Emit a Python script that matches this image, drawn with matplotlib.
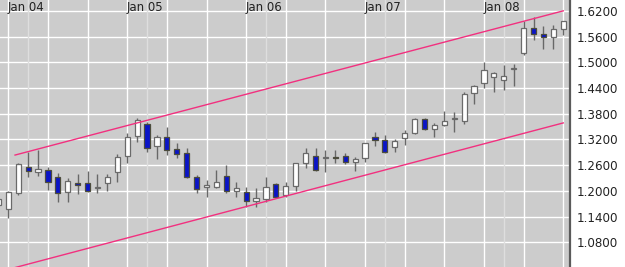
import numpy as np
import pandas as pd
import matplotlib
matplotlib.use('Agg')
import matplotlib.pyplot as plt
import matplotlib.transforms as mtransforms

# monthly candles, Dec 03 .. Aug 08
months = pd.period_range('2003-12', periods=58, freq='M')

opens = [1.167, 1.157, 1.196, 1.255, 1.245, 1.2485, 1.2315, 1.198, 1.219, 1.219,
         1.206, 1.2175, 1.243, 1.281, 1.3285, 1.356, 1.305, 1.325, 1.297, 1.2875,
         1.2315, 1.208, 1.2095, 1.2345, 1.200, 1.1965, 1.177, 1.181, 1.216, 1.190,
         1.211, 1.264, 1.281, 1.277, 1.2775, 1.282, 1.268, 1.276, 1.325, 1.3185,
         1.303, 1.324, 1.336, 1.367, 1.344, 1.3535, 1.368, 1.363, 1.4275, 1.451,
         1.465, 1.4585, 1.485, 1.522, 1.579, 1.565, 1.558, 1.5765]
highs = [1.190, 1.200, 1.264, 1.291, 1.295, 1.256, 1.241, 1.231, 1.2385, 1.247,
         1.239, 1.239, 1.286, 1.334, 1.369, 1.361, 1.330, 1.3495, 1.312, 1.299,
         1.237, 1.225, 1.2485, 1.260, 1.221, 1.208, 1.206, 1.233, 1.2175, 1.221,
         1.2656, 1.299, 1.299, 1.295, 1.295, 1.2875, 1.278, 1.312, 1.338, 1.330,
         1.320, 1.343, 1.369, 1.369, 1.3575, 1.387, 1.3845, 1.431, 1.4467, 1.500,
         1.478, 1.493, 1.497, 1.597, 1.6045, 1.584, 1.587, 1.597]
lows = [1.155, 1.137, 1.190, 1.233, 1.235, 1.202, 1.175, 1.175, 1.193, 1.198,
        1.196, 1.200, 1.221, 1.266, 1.315, 1.291, 1.2735, 1.2835, 1.276, 1.229,
        1.196, 1.185, 1.206, 1.1956, 1.186, 1.163, 1.163, 1.175, 1.1825, 1.185,
        1.200, 1.254, 1.246, 1.2445, 1.2655, 1.2625, 1.247, 1.268, 1.3045, 1.2875,
        1.291, 1.307, 1.3325, 1.342, 1.325, 1.351, 1.338, 1.356, 1.402, 1.440,
        1.431, 1.435, 1.444, 1.517, 1.552, 1.530, 1.530, 1.563]
closes = [1.181, 1.198, 1.262, 1.247, 1.251, 1.221, 1.194, 1.223, 1.213, 1.200,
          1.208, 1.2315, 1.278, 1.326, 1.365, 1.299, 1.326, 1.295, 1.286, 1.233,
          1.205, 1.2135, 1.220, 1.200, 1.206, 1.176, 1.1825, 1.208, 1.186, 1.211,
          1.264, 1.2875, 1.2485, 1.279, 1.2765, 1.268, 1.2735, 1.311, 1.3185, 1.291,
          1.317, 1.3355, 1.367, 1.344, 1.3535, 1.3635, 1.370, 1.427, 1.4445, 1.483,
          1.474, 1.4685, 1.4865, 1.581, 1.566, 1.558, 1.5765, 1.596]

# channel lines (month index, price)
trend_x = [0.68, 56]
upper_line = [1.2835, 1.62]
lower_line = [1.021, 1.3585]

yticks = [1.08, 1.14, 1.20, 1.26, 1.32, 1.38, 1.44, 1.50, 1.56, 1.62]

idx = np.arange(len(months)) - 1  # Jan 04 -> 0
o = np.array(opens); h = np.array(highs); l = np.array(lows); c = np.array(closes)
up = c >= o

fig = plt.figure(figsize=(6.25, 2.67), dpi=100)
ax = fig.add_axes([0, 0, 570 / 625, 1])
ax.set_facecolor('#cccccc')

# grid
for v in yticks:
    ax.axhline(v, color='white', lw=1.0, zorder=0)
for k in range(-1, 58):
    if k % 4 == 0:
        ax.axvline(k, color='white', lw=1.0, zorder=0)
    elif k % 12 == 2:
        ax.axvline(k, color='#dedede', lw=1.0, zorder=0)

# wicks
ax.vlines(idx, l, h, color='#686868', lw=1.0, zorder=2)
# bodies
bottoms = np.minimum(o, c)
heights = np.maximum(np.abs(c - o), 0.0015)
ax.bar(idx[up], heights[up], bottom=bottoms[up], width=0.52,
       color='white', edgecolor='#6a6a6a', lw=0.9, zorder=3)
ax.bar(idx[~up], heights[~up], bottom=bottoms[~up], width=0.52,
       color='#0a14c8', edgecolor='#4c4c3c', lw=0.9, zorder=3)

ax.plot(trend_x, upper_line, color='#f2307f', lw=1.0, zorder=4)
ax.plot(trend_x, lower_line, color='#f2307f', lw=1.0, zorder=4)

ax.set_xlim(-0.8375, 56.68)
ax.set_ylim(1.0223, 1.6453)

# year labels along the top
trans = mtransforms.blended_transform_factory(ax.transData, ax.transAxes)
for i, m in enumerate(months):
    if m.month == 1:
        ax.text(idx[i] - 0.05, 0.997, m.strftime('Jan %y'), transform=trans,
                ha='left', va='top', fontsize=8.5, color='#222222', zorder=5)

ax.set_xticks([])
ax.yaxis.tick_right()
ax.set_yticks(yticks)
ax.set_yticklabels([f'{v:.4f}' for v in yticks])
ax.tick_params(axis='y', length=0, pad=5, labelsize=8.6, labelcolor='#222222')
for s in ['top', 'left', 'bottom']:
    ax.spines[s].set_visible(False)
ax.spines['right'].set_color('#5a5a5a')
ax.spines['right'].set_linewidth(1.6)

fig.savefig('out.png', dpi=100, facecolor='white')
